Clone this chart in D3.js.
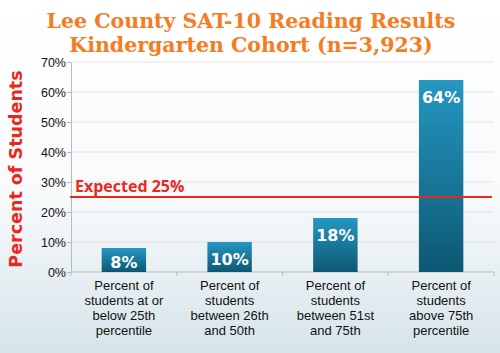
<!DOCTYPE html>
<html>
<head>
<meta charset="utf-8">
<script src="https://cdn.jsdelivr.net/npm/d3@7"></script>
<style>
  body { margin: 0; }
  svg { display: block; }
</style>
</head>
<body>
<div id="chart"></div>
<script>
let categories = [
  ["Percent of", "students at or", "below 25th", "percentile"],
  ["Percent of", "students", "between 26th", "and 50th"],
  ["Percent of", "students", "between 51st", "and 75th"],
  ["Percent of", "students", "above 75th", "percentile"]
];
let values = [8, 10, 18, 64];
let yTicks = [0, 10, 20, 30, 40, 50, 60, 70];
let expected = 25;
let titleLines = ["Lee County SAT-10 Reading Results", "Kindergarten Cohort (n=3,923)"];

let W = 500, H = 353;
let margin = {top: 62, left: 71, bottom: 81, right: 6};

let svg = d3.select("#chart").append("svg").attr("width", W).attr("height", H);
let defs = svg.append("defs");

let bg = defs.append("linearGradient").attr("id", "bg").attr("x1", 0).attr("y1", 0).attr("x2", 0).attr("y2", 1);
bg.append("stop").attr("offset", "0%").attr("stop-color", "#ffffff");
bg.append("stop").attr("offset", "55%").attr("stop-color", "#f8fafb");
bg.append("stop").attr("offset", "100%").attr("stop-color", "#d6e4ea");

let barGrad = defs.append("linearGradient").attr("id", "barg").attr("x1", 0).attr("y1", 0).attr("x2", 0).attr("y2", 1);
barGrad.append("stop").attr("offset", "0%").attr("stop-color", "#2597c1");
barGrad.append("stop").attr("offset", "100%").attr("stop-color", "#0d5873");

svg.append("rect").attr("width", W).attr("height", H).attr("fill", "url(#bg)");

// title
svg.append("g").selectAll("text")
  .data(titleLines).enter().append("text")
  .attr("x", 251)
  .attr("y", (d, i) => 28 + i * 24)
  .attr("text-anchor", "middle")
  .attr("font-family", "'DejaVu Serif', serif")
  .attr("font-weight", "bold")
  .attr("font-size", 20.5)
  .attr("fill", "#f57c1f")
  .text(d => d);

let x = d3.scaleBand()
  .domain(d3.range(categories.length))
  .range([margin.left, W - margin.right])
  .paddingInner(0.58)
  .paddingOuter(0.29);

let y = d3.scaleLinear()
  .domain([0, 70])
  .range([H - margin.bottom, margin.top]);

// grid
svg.append("g").selectAll("line")
  .data(yTicks.slice(1)).enter().append("line")
  .attr("x1", margin.left).attr("x2", W - margin.right)
  .attr("y1", d => y(d)).attr("y2", d => y(d))
  .attr("stroke", "#e4e4e4").attr("stroke-width", 1.2);

// y axis
let yAxis = svg.append("g")
  .attr("transform", `translate(${margin.left},0)`)
  .call(d3.axisLeft(y).tickValues(yTicks).tickFormat(d => d + "%").tickSize(4).tickSizeOuter(0));
yAxis.select(".domain").attr("stroke", "#bbbbbb");
yAxis.selectAll(".tick line").attr("stroke", "#bbbbbb");
yAxis.selectAll("text")
  .attr("font-family", "'Liberation Sans', Arial, sans-serif")
  .attr("font-size", 12.5).attr("fill", "#111").attr("x", -5);

// x axis
let step = x.step();
svg.append("line")
  .attr("x1", margin.left).attr("x2", W - margin.right)
  .attr("y1", y(0)).attr("y2", y(0))
  .attr("stroke", "#bbbbbb");
svg.append("g").selectAll("line")
  .data(d3.range(categories.length + 1)).enter().append("line")
  .attr("x1", d => x(0) - x.step() * x.paddingOuter() + d * step)
  .attr("x2", d => x(0) - x.step() * x.paddingOuter() + d * step)
  .attr("y1", y(0)).attr("y2", y(0) + 4)
  .attr("stroke", "#bbbbbb");

// bars
svg.append("g").selectAll("rect")
  .data(values).enter().append("rect")
  .attr("x", (d, i) => x(i))
  .attr("y", d => y(d))
  .attr("width", x.bandwidth())
  .attr("height", d => y(0) - y(d))
  .attr("fill", "url(#barg)");

// value labels
svg.append("g").selectAll("text")
  .data(values).enter().append("text")
  .attr("x", (d, i) => x(i) + x.bandwidth() / 2)
  .attr("y", d => Math.min(y(d) + 23, y(0) - 4))
  .attr("text-anchor", "middle")
  .attr("font-family", "'DejaVu Sans', sans-serif")
  .attr("font-weight", "bold")
  .attr("font-size", 16)
  .attr("fill", "#ffffff")
  .text(d => d + "%");

// expected line
svg.append("line")
  .attr("x1", margin.left - 1).attr("x2", W - margin.right - 2)
  .attr("y1", y(expected)).attr("y2", y(expected))
  .attr("stroke", "#e8291c").attr("stroke-width", 2);
svg.append("text")
  .attr("x", 75).attr("y", y(expected) - 5)
  .attr("font-family", "'Open Sans', 'DejaVu Sans', sans-serif")
  .attr("font-weight", "bold")
  .attr("font-size", 16)
  .attr("fill", "#e8291c")
  .text("Expected " + expected + "%");

// category labels
let cat = svg.append("g").selectAll("text")
  .data(categories).enter().append("text")
  .attr("text-anchor", "middle")
  .attr("font-family", "'Liberation Sans', Arial, sans-serif")
  .attr("font-size", 13)
  .attr("fill", "#111");
cat.selectAll("tspan")
  .data((d, i) => d.map(t => ({t, i}))).enter().append("tspan")
  .attr("x", d => x(d.i) + x.bandwidth() / 2)
  .attr("y", (d, j) => 290 + j * 15)
  .text(d => d.t);

// y title
svg.append("text")
  .attr("transform", `translate(22,${(y(0) + y(70)) / 2 + 2}) rotate(-90)`)
  .attr("text-anchor", "middle")
  .attr("font-family", "'DejaVu Sans', sans-serif")
  .attr("font-weight", "bold")
  .attr("font-size", 17.5)
  .attr("fill", "#e8291c")
  .text("Percent of Students");
</script>
</body>
</html>
